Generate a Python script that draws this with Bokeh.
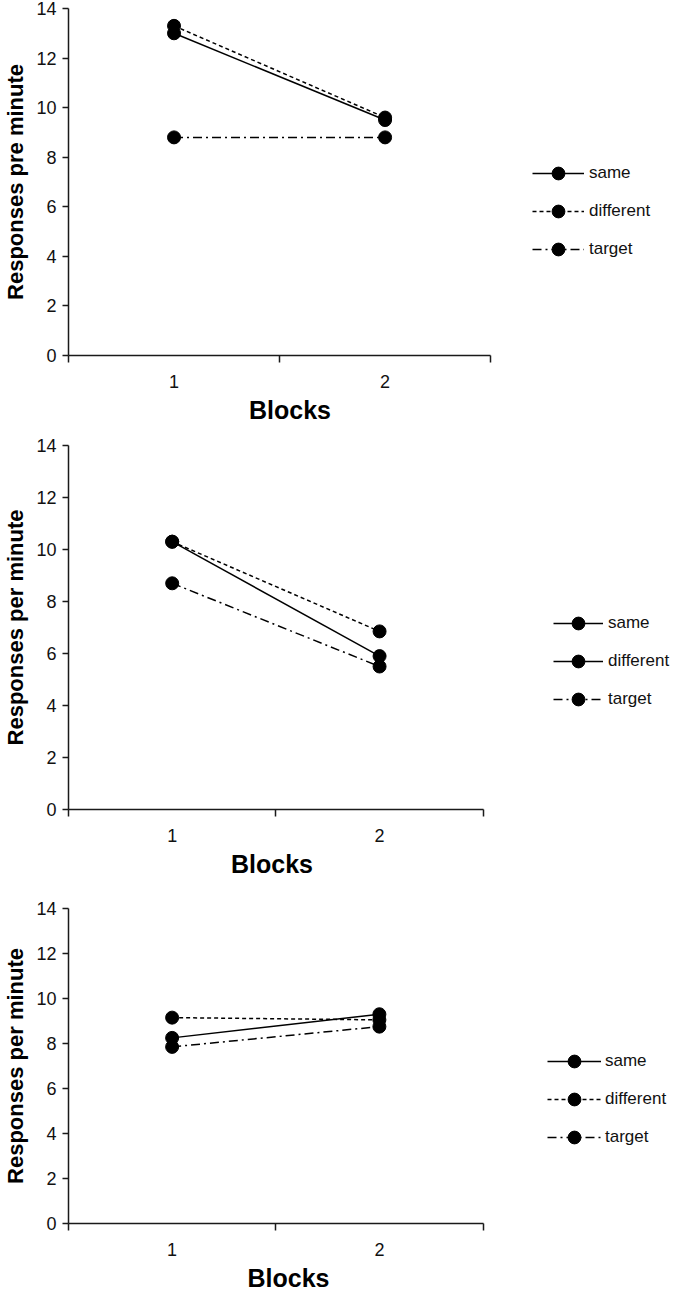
from bokeh.plotting import figure
from bokeh.layouts import column
from bokeh.models import Range1d, FixedTicker, Legend, LegendItem, Title
from bokeh.embed import file_html
from bokeh.resources import INLINE

# ---- data ----
blocks = [1, 2]
series_names = ["same", "different", "target"]

p1_same = [13.0, 9.5]
p1_different = [13.3, 9.6]
p1_target = [8.8, 8.8]

p2_same = [10.3, 5.9]
p2_different = [10.3, 6.85]
p2_target = [8.7, 5.5]

p3_same = [8.25, 9.3]
p3_different = [9.15, 9.05]
p3_target = [7.85, 8.75]

y_ticks = [0, 2, 4, 6, 8, 10, 12, 14]
x_minor_ticks = [0.5, 1.5, 2.5]
x_axis_bounds = (0.5, 2.5)

FONT = "Liberation Sans"
AX = "#1a1a1a"
DASHES = {"same": "solid", "different": "4 3", "target": "9 4 2 4"}
TOTAL_W = 672
XLABEL_HALF_W = 41


def panel(values, ylabel, height, left, axis_w, top, bottom,
          leg_x, leg_y, glyph_w, standoff, xlabel_shift,
          legend_same_style_for_diff=False):
    frame_w = TOTAL_W - left
    x0, x1 = x_axis_bounds
    x_end = x0 + (x1 - x0) * frame_w / axis_w
    p = figure(width=TOTAL_W, height=height, output_backend="svg", toolbar_location=None,
               x_range=Range1d(x0, x_end), y_range=Range1d(0, 14),
               min_border_left=left, min_border_right=0,
               min_border_top=top, min_border_bottom=bottom)
    p.outline_line_color = None
    p.xgrid.visible = False
    p.ygrid.visible = False

    xa = p.xaxis[0]
    xa.bounds = x_axis_bounds
    xa.ticker = FixedTicker(ticks=blocks, minor_ticks=x_minor_ticks)
    xa.major_tick_out = 0
    xa.major_tick_in = 0
    xa.minor_tick_out = 7
    xa.minor_tick_in = 0
    xa.minor_tick_line_color = AX
    xa.minor_tick_line_width = 1.5
    xa.axis_line_color = AX
    xa.axis_line_width = 1.5
    xa.major_label_text_font = FONT
    xa.major_label_text_font_size = "18px"
    xa.major_label_text_color = "#111111"
    xa.major_label_standoff = 12

    xlabel = Title(text="Blocks", align="left",
                   offset=axis_w / 2 - XLABEL_HALF_W + xlabel_shift,
                   text_font=FONT, text_font_size="25px", text_font_style="bold",
                   text_color="#000000", standoff=6)
    p.add_layout(xlabel, "below")

    ya = p.yaxis[0]
    ya.ticker = FixedTicker(ticks=y_ticks, minor_ticks=[])
    ya.major_tick_out = 6
    ya.major_tick_in = 0
    ya.major_tick_line_color = AX
    ya.major_tick_line_width = 1.5
    ya.minor_tick_out = 0
    ya.minor_tick_in = 0
    ya.axis_line_color = AX
    ya.axis_line_width = 1.5
    ya.major_label_text_font = FONT
    ya.major_label_text_font_size = "18px"
    ya.major_label_text_color = "#111111"
    ya.major_label_standoff = 6
    ya.axis_label = ylabel
    ya.axis_label_text_font = FONT
    ya.axis_label_text_font_size = "22px"
    ya.axis_label_text_font_style = "bold"
    ya.axis_label_text_color = "#000000"
    ya.axis_label_standoff = 5

    lines = {}
    dots = {}
    for name, vals in zip(series_names, values):
        lines[name] = p.line(blocks, vals, line_color="black", line_width=1.5,
                             line_dash=DASHES[name])
    for name, vals in zip(series_names, values):
        dots[name] = p.scatter(blocks, vals, marker="circle", size=13,
                               fill_color="black", line_color="black")

    items = []
    for name in series_names:
        ln = lines[name]
        if legend_same_style_for_diff and name == "different":
            ln = lines["same"]
        items.append(LegendItem(label=name, renderers=[ln, dots[name]]))

    legend = Legend(items=items, location=(axis_w + leg_x, leg_y), orientation="vertical",
                    glyph_width=glyph_w, glyph_height=32, spacing=6,
                    label_standoff=standoff, padding=0, margin=0,
                    border_line_color=None, background_fill_alpha=0,
                    label_text_font=FONT, label_text_font_size="17px",
                    label_text_color="#111111")
    p.add_layout(legend, "center")
    return p


f1 = panel([p1_same, p1_different, p1_target], "Responses pre minute",
           height=426, left=61, axis_w=427, top=8, bottom=64,
           leg_x=37, leg_y=90, glyph_w=52, standoff=5, xlabel_shift=8)
f2 = panel([p2_same, p2_different, p2_target], "Responses per minute",
           height=454, left=56, axis_w=423, top=19, bottom=64,
           leg_x=62, leg_y=94, glyph_w=50, standoff=5, xlabel_shift=-8,
           legend_same_style_for_diff=True)
f3 = panel([p3_same, p3_different, p3_target], "Responses per minute",
           height=414, left=60, axis_w=420, top=28, bottom=64,
           leg_x=59, leg_y=70, glyph_w=54, standoff=4, xlabel_shift=10)

layout = column(f1, f2, f3, spacing=0)
open("out.html", "w").write(file_html(layout, INLINE))
